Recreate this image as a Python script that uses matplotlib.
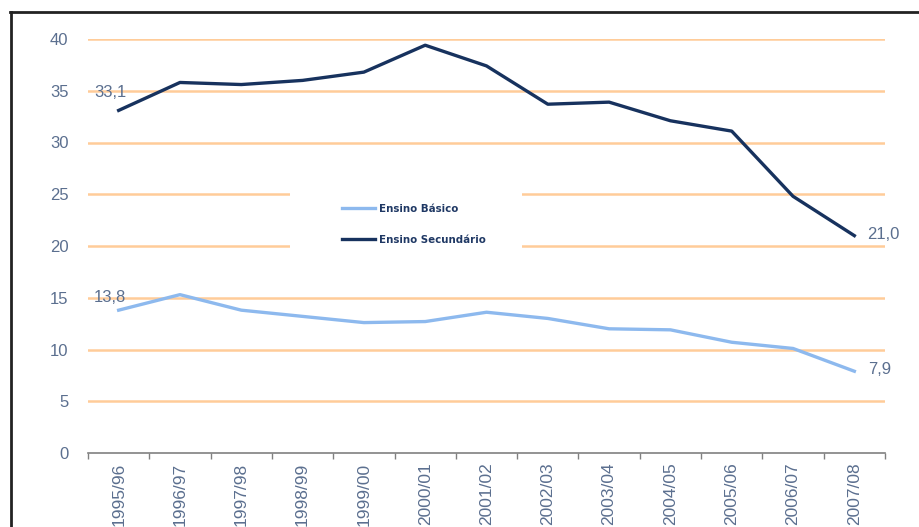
import matplotlib
matplotlib.use("Agg")
import matplotlib.pyplot as plt
from matplotlib.lines import Line2D
from matplotlib.patches import Rectangle

# school years and rates (%)
anos = ["1995/96", "1996/97", "1997/98", "1998/99", "1999/00", "2000/01", "2001/02",
        "2002/03", "2003/04", "2004/05", "2005/06", "2006/07", "2007/08"]
basico = [13.8, 15.3, 13.8, 13.2, 12.6, 12.7, 13.6, 13.0, 12.0, 11.9, 10.7, 10.1, 7.9]
secundario = [33.1, 35.8, 35.6, 36.0, 36.8, 39.4, 37.4, 33.7, 33.9, 32.1, 31.1, 24.8, 21.0]
yticks = [0, 5, 10, 15, 20, 25, 30, 35, 40]

txt_col = "#5b6f8f"
grid_col = "#ffcc99"
c_bas = "#8db9ee"
c_sec = "#17325e"

plt.rcParams["font.family"] = ["Liberation Sans", "DejaVu Sans"]

fig = plt.figure(figsize=(9.19, 5.27), dpi=100)
ax = fig.add_axes([88 / 919, 1 - 453 / 527, 797 / 919, 414 / 527])

x = list(range(len(anos)))
for v in yticks[1:]:
    ax.axhline(v, color=grid_col, lw=1.8, zorder=1)

# white box behind the legend hides part of the grid
ax.add_patch(Rectangle((0.253, 0.49), 0.292, 0.145, transform=ax.transAxes,
                       facecolor="white", edgecolor="none", zorder=1.5))

ax.plot(x, basico, color=c_bas, lw=2.4, label="Ensino Básico", zorder=3)
ax.plot(x, secundario, color=c_sec, lw=2.4, label="Ensino Secundário", zorder=3)

fmt = lambda v: f"{v:.1f}".replace(".", ",")
ax.annotate(fmt(secundario[0]), (x[0], secundario[0]), xytext=(-6, 13),
            textcoords="offset points", ha="center", va="center", fontsize=12, color=txt_col)
ax.annotate(fmt(basico[0]), (x[0], basico[0]), xytext=(-6, 9),
            textcoords="offset points", ha="center", va="center", fontsize=12, color=txt_col)
ax.annotate(fmt(secundario[-1]), (x[-1], secundario[-1]), xytext=(9, 1),
            textcoords="offset points", ha="left", va="center", fontsize=12, color=txt_col)
ax.annotate(fmt(basico[-1]), (x[-1], basico[-1]), xytext=(10, 1),
            textcoords="offset points", ha="left", va="center", fontsize=12, color=txt_col)

ax.set_xlim(-0.5, len(anos) - 0.5)
ax.set_ylim(0, 40)
ax.set_yticks(yticks)
ax.set_yticklabels([str(v) for v in yticks])
ax.set_xticks(x)
ax.set_xticklabels(anos, rotation=90, va="top", ha="center")
ax.set_xticks([i - 0.5 for i in range(len(anos) + 1)], minor=True)
ax.tick_params(axis="x", which="major", length=0, pad=7, labelsize=12.5, labelcolor=txt_col)
ax.tick_params(axis="x", which="minor", length=4, width=1, color="#808080", direction="out")
ax.tick_params(axis="y", length=0, pad=14, labelsize=12, labelcolor=txt_col)

for s in ["top", "right", "left"]:
    ax.spines[s].set_visible(False)
ax.spines["bottom"].set_color("#808080")
ax.spines["bottom"].set_linewidth(1.2)
ax.spines["bottom"].set_zorder(4)

leg = ax.legend(loc="center left", bbox_to_anchor=(0.312, 0.552), frameon=False,
                borderpad=0, handlelength=2.9, handletextpad=0.3, labelspacing=1.9,
                prop={"family": "DejaVu Sans", "weight": "bold", "size": 8.2, "stretch": "condensed"})
for t in leg.get_texts():
    t.set_color("#1f3864")

# outer frame of the original picture
fig.add_artist(Line2D([10.5 / 919, 10.5 / 919], [0, 1 - 12 / 527], color="#222222", lw=2,
                      transform=fig.transFigure))
fig.add_artist(Line2D([10 / 919, 1], [1 - 12 / 527, 1 - 12 / 527], color="#222222", lw=2,
                      transform=fig.transFigure))

fig.savefig("out.png", dpi=100)
